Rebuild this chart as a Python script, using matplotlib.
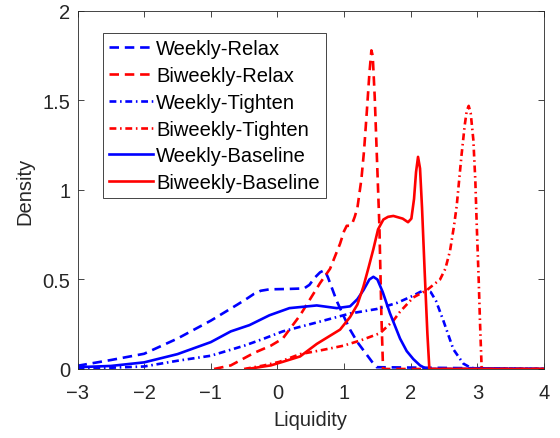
import numpy as np
import matplotlib.pyplot as plt

plt.rcParams['font.family'] = ['Liberation Sans', 'DejaVu Sans']

# values (x = liquidity, y = density)
weekly_relax_x = [-3.0, -2.5, -2.0, -1.5, -1.0, -0.8, -0.6, -0.45, -0.35, -0.25, -0.12, 0.15, 0.4, 0.48, 0.56, 0.64, 0.71, 0.76, 0.82, 0.89, 1.0, 1.09, 1.2, 1.34, 1.42, 1.49, 4.0]
weekly_relax_y = [0.018, 0.05, 0.085, 0.17, 0.27, 0.315, 0.36, 0.395, 0.42, 0.437, 0.445, 0.447, 0.45, 0.47, 0.51, 0.54, 0.553, 0.51, 0.45, 0.38, 0.29, 0.22, 0.15, 0.08, 0.04, 0.01, 0.0]

biweekly_relax_x = [-0.95, -0.7, -0.35, -0.1, 0.08, 0.34, 0.64, 0.79, 0.94, 1.0, 1.04, 1.08, 1.12, 1.16, 1.2, 1.26, 1.3, 1.34, 1.38, 1.41, 1.43, 1.46, 1.5, 1.53, 1.56, 1.585, 4.0]
biweekly_relax_y = [0.0, 0.02, 0.09, 0.13, 0.17, 0.3, 0.48, 0.56, 0.7, 0.77, 0.8, 0.8, 0.81, 0.85, 0.9, 1.06, 1.22, 1.43, 1.65, 1.78, 1.75, 1.52, 1.11, 0.8, 0.3, 0.0, 0.0]

weekly_tighten_x = [-3.0, -2.5, -2.0, -1.5, -1.0, -0.5, -0.2, 0.08, 0.59, 1.09, 1.49, 1.8, 2.04, 2.14, 2.22, 2.3, 2.38, 2.49, 2.64, 2.79, 2.91, 4.0]
weekly_tighten_y = [0.005, 0.007, 0.014, 0.046, 0.074, 0.13, 0.17, 0.21, 0.26, 0.31, 0.335, 0.37, 0.41, 0.43, 0.44, 0.43, 0.38, 0.27, 0.11, 0.03, 0.005, 0.0]

biweekly_tighten_x = [-0.5, -0.2, 0.03, 0.34, 0.66, 0.99, 1.25, 1.54, 1.74, 1.84, 2.04, 2.24, 2.44, 2.52, 2.59, 2.65, 2.69, 2.76, 2.81, 2.84, 2.87, 2.9, 2.94, 2.97, 2.99, 3.02, 3.04, 3.065, 4.0]
biweekly_tighten_y = [0.0, 0.02, 0.04, 0.083, 0.105, 0.13, 0.16, 0.2, 0.27, 0.32, 0.4, 0.44, 0.5, 0.56, 0.66, 0.8, 0.91, 1.185, 1.36, 1.44, 1.47, 1.43, 1.28, 1.05, 0.815, 0.5, 0.26, 0.0, 0.0]

weekly_base_x = [-3.0, -2.5, -2.0, -1.5, -1.0, -0.7, -0.42, -0.12, 0.18, 0.59, 0.89, 1.09, 1.2, 1.29, 1.38, 1.44, 1.5, 1.58, 1.69, 1.84, 1.94, 2.04, 2.14, 2.24, 4.0]
weekly_base_y = [0.01, 0.017, 0.037, 0.083, 0.15, 0.21, 0.245, 0.3, 0.34, 0.355, 0.34, 0.35, 0.39, 0.44, 0.5, 0.515, 0.5, 0.43, 0.31, 0.17, 0.1, 0.055, 0.02, 0.0, 0.0]

biweekly_base_x = [-0.45, -0.1, 0.08, 0.34, 0.59, 0.94, 1.09, 1.2, 1.29, 1.37, 1.44, 1.51, 1.59, 1.66, 1.74, 1.88, 1.96, 2.01, 2.05, 2.08, 2.11, 2.14, 2.17, 2.21, 2.25, 2.28, 4.0]
biweekly_base_y = [0.0, 0.02, 0.04, 0.07, 0.14, 0.22, 0.29, 0.36, 0.46, 0.57, 0.67, 0.78, 0.835, 0.85, 0.855, 0.84, 0.82, 0.84, 0.95, 1.1, 1.185, 1.12, 0.9, 0.54, 0.2, 0.0, 0.0]

labels = ['Weekly-Relax', 'Biweekly-Relax', 'Weekly-Tighten',
          'Biweekly-Tighten', 'Weekly-Baseline', 'Biweekly-Baseline']
series = [(weekly_relax_x, weekly_relax_y), (biweekly_relax_x, biweekly_relax_y),
          (weekly_tighten_x, weekly_tighten_y), (biweekly_tighten_x, biweekly_tighten_y),
          (weekly_base_x, weekly_base_y), (biweekly_base_x, biweekly_base_y)]
colors = ['#0000ff', '#ff0000'] * 3
dash_styles = [(0, (3.6, 2.2)), (0, (3.6, 2.2)),
               (0, (2.6, 1.4, 0.6, 1.4)), (0, (2.6, 1.4, 0.6, 1.4)),
               '-', '-']

fig = plt.figure(figsize=(5.6, 4.39), dpi=100)
ax = fig.add_axes([0.1384, 0.1572, 0.833, 0.8155])

for (xs, ys), lab, c, ls in zip(series, labels, colors, dash_styles):
    ax.plot(xs, ys, color=c, linestyle=ls, linewidth=1.9, label=lab)

ax.set_xlim(-3, 4)
ax.set_ylim(0, 2)
ax.set_xticks(np.arange(-3, 5, 1))
ax.set_yticks([0, 0.5, 1, 1.5, 2])
ax.set_yticklabels(['0', '0.5', '1', '1.5', '2'])
ax.tick_params(direction='in', top=True, right=True, labelsize=14.5,
               colors='#262626', length=4, width=0.6)
ax.tick_params(axis='x', pad=10)
ax.tick_params(axis='y', pad=5)
for sp in ax.spines.values():
    sp.set_color('#262626')
    sp.set_linewidth(0.6)
ax.set_xlabel('Liquidity', fontsize=14.5, color='#262626', labelpad=6)
ax.set_ylabel('Density', fontsize=14.5, color='#262626', labelpad=6)

leg = ax.legend(loc='upper left', bbox_to_anchor=(0.0547, 0.9385), borderaxespad=0,
                fontsize=14.5, handlelength=2.2, handletextpad=0.15, labelspacing=0.39,
                borderpad=0.3, fancybox=False, framealpha=1, edgecolor='#262626')
leg.get_frame().set_linewidth(0.6)

fig.savefig('out.png', dpi=100)
